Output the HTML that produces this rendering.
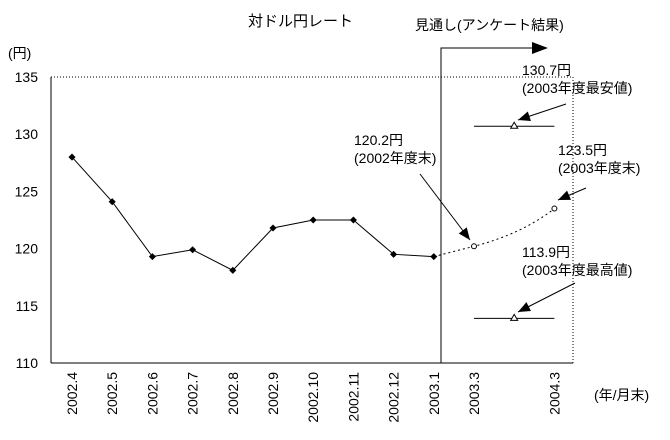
<!DOCTYPE html>
<html><head><meta charset="utf-8"><style>
body{margin:0;background:#fff}
svg{display:block;font-family:"Liberation Sans","Noto Sans CJK JP",sans-serif}
text{font-size:14px;fill:#000}
</style></head><body>
<svg id="c" width="670" height="440" xmlns="http://www.w3.org/2000/svg">
<text x="248" y="26" style="font-size:15px">対ドル円レート</text>
<text x="8" y="58">(円)</text>
<text x="415" y="30" style="font-size:14px">見通し(アンケート結果)</text>
<text x="594" y="400">(年/月末)</text>
<g id="axes"></g><g id="marks"></g>
</svg>
<script>
const categories=["2002.4","2002.5","2002.6","2002.7","2002.8","2002.9","2002.10","2002.11","2002.12","2003.1","2003.3","","2004.3"];
const actual=[128.0,124.1,119.3,119.9,118.1,121.8,122.5,122.5,119.5,119.3];
const forecast=[119.3,120.2,null,123.5];
const rangeValues=[130.7,113.9];
const yTicks=[110,115,120,125,130,135];
const NS="http://www.w3.org/2000/svg";
const X0=51,X1=573,Y0=363,Y1=77;
const x=i=>72+i*40.2;
const y=v=>Y0-(v-110)/25*(Y0-Y1);
function el(tag,attrs,parent,txt){const e=document.createElementNS(NS,tag);for(const k in attrs)e.setAttribute(k,attrs[k]);if(txt!==undefined)e.textContent=txt;parent.appendChild(e);return e;}
const ax=document.getElementById('axes'),mk=document.getElementById('marks');
let e;
e=el('line',{x1:X0,y1:Y1,x2:X0,y2:Y0,stroke:'#000'},ax);
e=el('line',{x1:X0,y1:Y0,x2:X1,y2:Y0,stroke:'#000'},ax);
e=el('line',{x1:X0,y1:Y1,x2:X1,y2:Y1,stroke:'#000','stroke-dasharray':'1,2'},ax);
e=el('line',{x1:X1,y1:Y1,x2:X1,y2:Y0,stroke:'#000','stroke-dasharray':'1,2'},ax);
yTicks.forEach(t=>{e=el('text',{x:38,y:y(t)+5,'text-anchor':'end'},ax,String(t));});
categories.forEach((c,i)=>{if(!c)return;e=el('text',{transform:`translate(${x(i)+5},${372}) rotate(-90)`,'text-anchor':'end'},ax,c);});
e=el('path',{d:`M441 ${Y0} V48 H535`,fill:'none',stroke:'#000'},ax);
e=el('polygon',{points:'548,48 532,42 532,54',fill:'#000'},ax);
e=el('polyline',{points:actual.map((v,i)=>x(i)+','+y(v)).join(' '),fill:'none',stroke:'#000'},mk);
actual.forEach((v,i)=>{e=el('rect',{x:x(i)-2.5,y:y(v)-2.5,width:5,height:5,transform:`rotate(45 ${x(i)} ${y(v)})`,fill:'#000'},mk);});
const fp=[];forecast.forEach((v,j)=>{if(v!==null)fp.push([x(9+j),y(v)]);});
e=el('path',{d:'M'+fp[0]+' L'+fp[1]+' Q'+x(11.2)+','+y(121.3)+' '+fp[2],fill:'none',stroke:'#000','stroke-dasharray':'2,3'},mk);

fp.slice(1).forEach(p=>{e=el('circle',{cx:p[0],cy:p[1],r:2.5,fill:'#fff',stroke:'#000'},mk);});
rangeValues.forEach(v=>{e=el('line',{x1:x(10),y1:y(v),x2:x(12),y2:y(v),stroke:'#000'},mk);
e=el('polygon',{points:`${x(11)},${y(v)-4} ${x(11)-3.5},${y(v)+2} ${x(11)+3.5},${y(v)+2}`,fill:'#fff',stroke:'#000'},mk);});
function ann(lines,tx,ty,ax1,ay1,ax2,ay2,name){lines.forEach((l,k)=>{e=el('text',{x:tx,y:ty+k*18},mk,l);});
e=el('line',{x1:ax1,y1:ay1,x2:ax2,y2:ay2,stroke:'#000'},mk);
const a=Math.atan2(ay2-ay1,ax2-ax1),L=12,W=5;
const p=[[ax2,ay2],[ax2-L*Math.cos(a)+W*Math.sin(a),ay2-L*Math.sin(a)-W*Math.cos(a)],[ax2-L*Math.cos(a)-W*Math.sin(a),ay2-L*Math.sin(a)+W*Math.cos(a)]];
e=el('polygon',{points:p.map(q=>q.join(',')).join(' '),fill:'#000'},mk);}
ann(['130.7円','(2003年度最安値)'],522,75,566,104,518,120,'annotation-low');
ann(['123.5円','(2003年度末)'],558,155,586,188,558,200,'annotation-end');
ann(['120.2円','(2002年度末)'],354,145,420,174,470,240,'annotation-2002');
ann(['113.9円','(2003年度最高値)'],522,257,575,283,518,312,'annotation-high');
</script>
</body></html>
